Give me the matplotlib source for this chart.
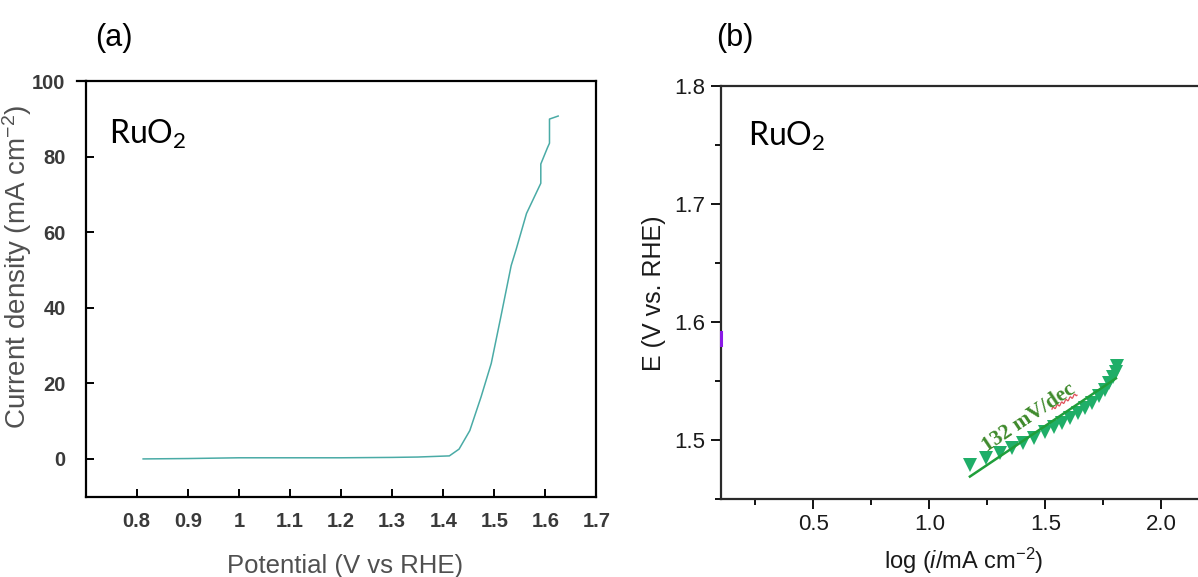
import numpy as np
import matplotlib
matplotlib.use("Agg")
import matplotlib.pyplot as plt
from matplotlib.ticker import FixedLocator, FixedFormatter, MultipleLocator, FormatStrFormatter

plt.rcParams['mathtext.fontset'] = 'custom'
plt.rcParams['mathtext.rm'] = 'Liberation Sans'
plt.rcParams['mathtext.it'] = 'Liberation Sans:italic'
plt.rcParams['font.family'] = 'Liberation Sans'

# (a) LSV polarisation curve for RuO2
potential = [0.8125, 0.90, 1.00, 1.10, 1.20, 1.30, 1.35, 1.412, 1.431, 1.452,
             1.474, 1.494, 1.513, 1.533, 1.543, 1.563, 1.591, 1.591, 1.604,
             1.608, 1.608, 1.625]
current = [0.0, 0.1, 0.3, 0.3, 0.3, 0.4, 0.5, 0.8, 2.6, 7.5,
           16.4, 25.3, 37.8, 51.2, 55.6, 65.0, 73.0, 78.1, 82.4,
           83.6, 90.0, 90.8]
lsv_xticks = [0.8, 0.9, 1.0, 1.1, 1.2, 1.3, 1.4, 1.5, 1.6, 1.7]
lsv_xlabels = ['0.8', '0.9', '1', '1.1', '1.2', '1.3', '1.4', '1.5', '1.6', '1.7']
lsv_yticks = [0, 20, 40, 60, 80, 100]

# (b) Tafel data for RuO2
log_i = [1.175, 1.244, 1.304, 1.357, 1.406, 1.452, 1.497, 1.538, 1.574, 1.607,
         1.640, 1.670, 1.703, 1.733, 1.756, 1.777, 1.794, 1.805, 1.810]
tafel_E = [1.479, 1.4845, 1.4887, 1.493, 1.4978, 1.502, 1.5065, 1.5107, 1.5147,
           1.5184, 1.5226, 1.5268, 1.5316, 1.5373, 1.5423, 1.548, 1.5536,
           1.5579, 1.5627]
tafel_slope = 0.132          # V/dec
tafel_intercept = 1.3139     # V
fit_range = [1.175, 1.805]
other_x = [0.1, 0.1]
other_E = [1.580, 1.591]

fig = plt.figure(figsize=(11.98, 5.77), dpi=100)

# ---------------- panel (a) ----------------
ax1 = fig.add_axes([0.0715, 0.1392, 0.4264, 0.7199])
ax1.plot(potential, current, color='#4aaba6', lw=1.1)
ax1.set_xlim(0.7, 1.7)
ax1.set_ylim(-10, 100)
ax1.xaxis.set_major_locator(FixedLocator(lsv_xticks))
ax1.xaxis.set_major_formatter(FixedFormatter(lsv_xlabels))
ax1.yaxis.set_major_locator(FixedLocator(lsv_yticks))
for s in ax1.spines.values():
    s.set_linewidth(1.6)
    s.set_color('black')
ax1.tick_params(axis='both', direction='in', length=6, width=1.4, color='black',
                labelsize=14.5, labelcolor='#3a3a3a')
ax1.tick_params(axis='x', pad=11)
ax1.tick_params(axis='y', pad=14.5)
for lab in ax1.get_xticklabels() + ax1.get_yticklabels():
    lab.set_fontweight('bold')
ax1.plot([-0.016, 0], [1, 1], transform=ax1.transAxes, clip_on=False,
         color='black', lw=1.6)
ax1.set_xlabel('Potential (V vs RHE)', fontsize=18.5, color='#505050')
ax1.xaxis.set_label_coords(0.507, -0.137)
ax1.set_ylabel('Current density (mA cm$^{\\mathregular{-2}}$)', fontsize=20,
               color='#505050')
ax1.yaxis.set_label_coords(-0.101, 0.554)
ax1.text(0.045, 0.85, 'RuO$_\\mathregular{2}$', transform=ax1.transAxes,
         fontsize=23, family='Lato', color='black')
fig.text(0.079, 0.92, '(a)', fontsize=22, color='black')

# ---------------- panel (b) ----------------
ax2 = fig.add_axes([0.6016, 0.1352, 0.4257, 0.7163])
ax2.plot(other_x, other_E, color='#8a1ae6', lw=2.2, clip_on=False, zorder=4)
ax2.plot(log_i, tafel_E, linestyle='none', marker='v', markersize=10,
         color='#1fae68', markeredgewidth=0)
fx = np.array(fit_range)
ax2.plot(fx, tafel_intercept + tafel_slope * fx, color='#1f9e3a', lw=1.8)
ax2.text(1.43, 1.5185, f'{tafel_slope * 1000:.0f} mV/dec', rotation=34,
         rotation_mode='anchor', ha='center', va='center', family='Liberation Serif',
         fontweight='bold', fontsize=15.5, color='#3f8a2c')
# wavy underline below "dec"
wx = np.linspace(1.529, 1.637, 120)
wy = 1.5261 + 0.118 * (wx - 1.529) + 0.0011 * np.sin((wx - 1.529) * 340)
ax2.plot(wx, wy, color='#e0505a', lw=0.9)

ax2.set_xlim(0.1, 2.3)
ax2.set_ylim(1.45, 1.8)
ax2.xaxis.set_major_locator(MultipleLocator(0.5))
ax2.xaxis.set_minor_locator(MultipleLocator(0.25))
ax2.yaxis.set_major_locator(MultipleLocator(0.1))
ax2.yaxis.set_minor_locator(MultipleLocator(0.05))
ax2.xaxis.set_major_formatter(FormatStrFormatter('%.1f'))
ax2.yaxis.set_major_formatter(FormatStrFormatter('%.1f'))
for s in ax2.spines.values():
    s.set_linewidth(1.6)
    s.set_color('#2a2a2a')
ax2.tick_params(axis='both', which='major', direction='out', length=7, width=1.3,
                labelsize=16, labelcolor='#1a1a1a', pad=4)
ax2.tick_params(axis='both', which='minor', direction='out', length=4, width=1.3)
ax2.set_xlabel('log ($\\it{i}$/mA cm$^{\\mathregular{-2}}$)', fontsize=17,
               color='#1a1a1a')
ax2.xaxis.set_label_coords(0.477, -0.113)
ax2.set_ylabel('E (V vs. RHE)', fontsize=18, color='#1a1a1a')
ax2.yaxis.set_label_coords(-0.107, 0.497)
ax2.text(0.054, 0.855, 'RuO$_\\mathregular{2}$', transform=ax2.transAxes,
         fontsize=23, family='Lato', color='black')
fig.text(0.598, 0.92, '(b)', fontsize=22, color='black')

fig.savefig('out.png', dpi=100)
